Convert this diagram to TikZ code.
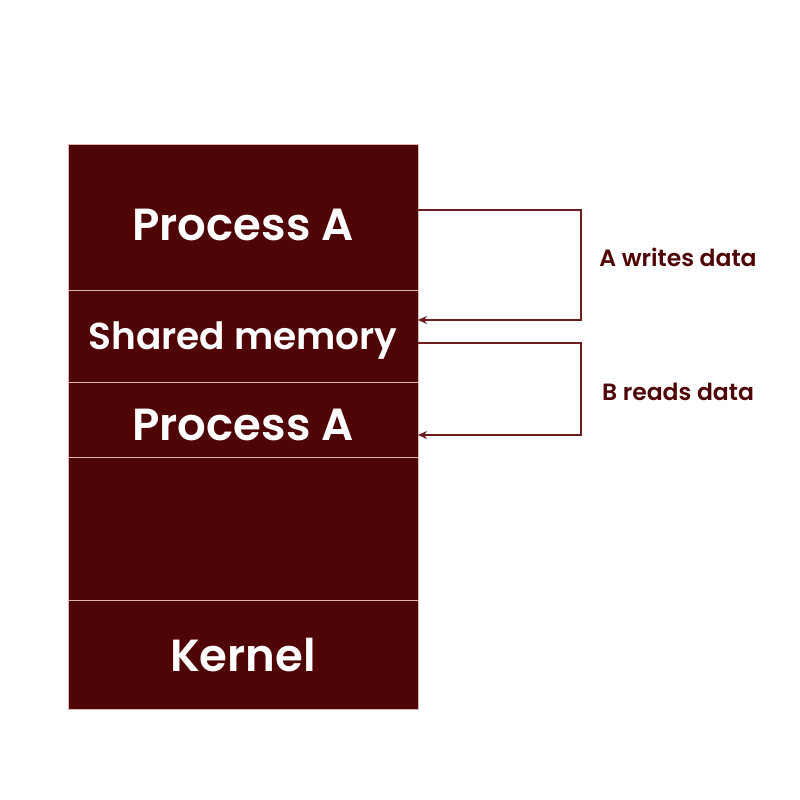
\documentclass[tikz,border=0pt]{standalone}
\usepackage{fontspec}
\setmainfont{Poppins}[UprightFont=* SemiBold, BoldFont=* Bold]
\usetikzlibrary{positioning,arrows.meta}
\definecolor{memred}{HTML}{4F0405}
\definecolor{sepline}{HTML}{D9B5B5}
\definecolor{flowred}{HTML}{6A1E1E}

\begin{document}
\begin{tikzpicture}[
    x=1pt, y=1pt,
    node distance=0pt,
    seg/.style={rectangle, draw=sepline, line width=1pt, outer sep=0pt, fill=memred, text=white, minimum width=350pt, font=\fontsize{45}{50}\selectfont, inner sep=0pt},
    flow/.style={draw=flowred, line width=1.2pt, -{Stealth[length=9pt,width=8pt]}},
    note/.style={font=\fontsize{23.5}{28}\selectfont, text=memred}
]
    \useasboundingbox (0,0) rectangle (800,800);
    \node[seg, minimum height=146pt, text height=46pt, text depth=0pt, anchor=north west] (procA) at (68,655) {Process A};
    \node[seg, minimum height=92pt, text height=26pt, text depth=0pt, below=of procA, font=\fontsize{37.5}{42}\selectfont] (shm) {Shared memory};
    \node[seg, minimum height=75pt, text height=41pt, text depth=0pt, below=of shm] (procB) {Process A};
    \node[seg, minimum height=143pt, below=of procB] (free) {};
    \node[seg, minimum height=109pt, below=of free] (kernel) {Kernel};

    \draw[flow] ([yshift=-65pt]procA.north east) -- ++(163,0) |- ([yshift=-29pt]shm.north east);
    \draw[flow] ([yshift=-52pt]shm.north east) -- ++(163,0) |- ([yshift=-52pt]procB.north east);

    \node[note] (wr) at (678,543) {A writes data};
    \node[note] (rd) at (678,408) {B reads data};
\end{tikzpicture}
\end{document}
